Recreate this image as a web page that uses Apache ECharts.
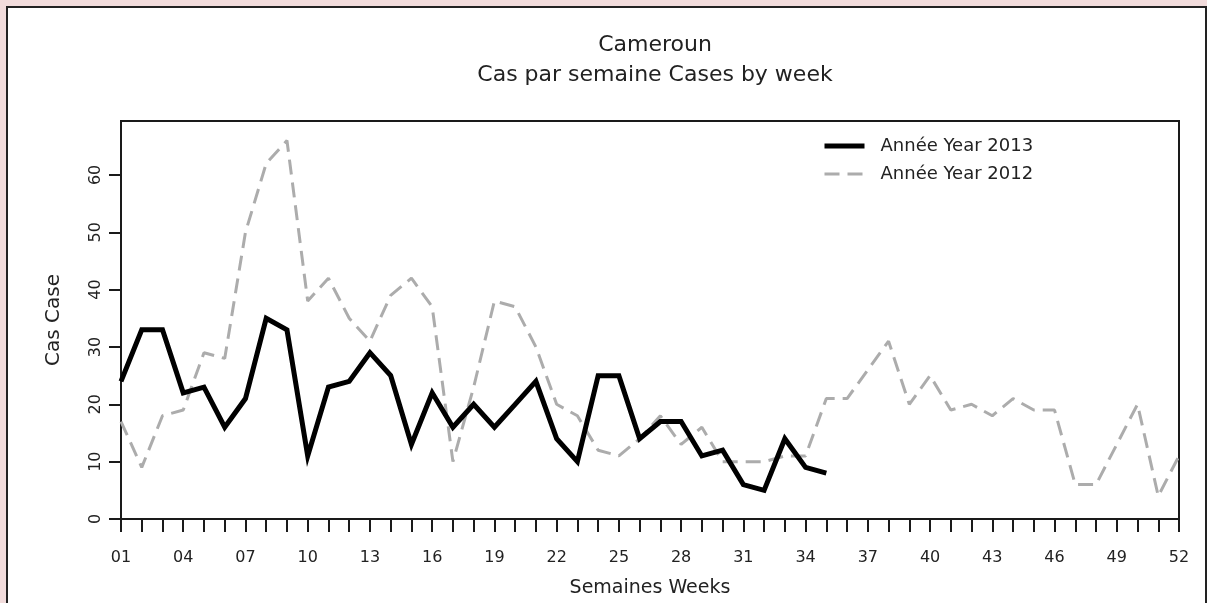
<!DOCTYPE html>
<html>
<head>
<meta charset="utf-8">
<title>Cameroun - Cas par semaine</title>
<script src="https://cdn.jsdelivr.net/npm/echarts@6/dist/echarts.min.js"></script>
<style>
  html, body { margin: 0; padding: 0; background: #f2dcdc; }
  .frame {
    position: absolute; left: 6px; top: 6px; width: 1197px; height: 700px;
    border: 2px solid #222; background: #fff;
  }
  #chart { position: absolute; left: 0; top: 0; width: 1207px; height: 603px; }
</style>
</head>
<body>
<div class="frame"></div>
<div id="chart"></div>
<script>
// semaines 01..52
const weeks = [
  '01', '02', '03', '04', '05', '06', '07', '08', '09', '10',
  '11', '12', '13', '14', '15', '16', '17', '18', '19', '20',
  '21', '22', '23', '24', '25', '26', '27', '28', '29', '30',
  '31', '32', '33', '34', '35', '36', '37', '38', '39', '40',
  '41', '42', '43', '44', '45', '46', '47', '48', '49', '50',
  '51', '52',
]

// cas 2013 (semaines 1-35)
const cases2013 = [
  24, 33, 33, 22, 23, 16, 21, 35, 33, 11,
  23, 24, 29, 25, 13, 22, 16, 20, 16, 20,
  24, 14, 10, 25, 25, 14, 17, 17, 11, 12,
  6, 5, 14, 9, 8,
]

// cas 2012 (semaines 1-52)
const cases2012 = [
  17, 9, 18, 19, 29, 28, 50, 62, 66, 38,
  42, 35, 31, 39, 42, 37, 10, 23, 38, 37,
  30, 20, 18, 12, 11, 14, 18, 13, 16, 10,
  10, 10, 11, 11, 21, 21, 26, 31, 20, 25,
  19, 20, 18, 21, 19, 19, 6, 6, 13, 20,
  4, 11,
]

const yTicks = [0, 10, 20, 30, 40, 50, 60]

const FONT = 'DejaVu Sans'
const AXIS_COLOR = '#1a1a1a'

const chart = echarts.init(document.getElementById('chart'))

chart.setOption({
  backgroundColor: 'transparent',
  animation: false,
  textStyle: { fontFamily: FONT, color: '#222' },
  title: [
    {
      text: 'Cameroun',
      left: 650,
      top: 29,
      textAlign: 'center',
      textStyle: { fontFamily: FONT, fontSize: 22, fontWeight: 'normal', color: '#222' },
    },
    {
      text: 'Cas par semaine Cases by week',
      left: 650,
      top: 59,
      textAlign: 'center',
      textStyle: { fontFamily: FONT, fontSize: 22, fontWeight: 'normal', color: '#222' },
    },
  ],
  legend: {
    orient: 'vertical',
    left: 822,
    top: 137,
    padding: 0,
    itemWidth: 40,
    itemHeight: 18,
    itemGap: 10,
    data: [
      { name: 'Année Year 2013', lineStyle: { width: 5 } },
      { name: 'Année Year 2012', lineStyle: { width: 3 } },
    ],
    itemStyle: { opacity: 0 },
    textStyle: { fontFamily: FONT, fontSize: 18, color: '#222', padding: [0, 0, 0, 11] },
  },
  grid: {
    left: 121,
    right: 28,
    top: 121,
    bottom: 84,
    show: true,
    borderColor: AXIS_COLOR,
    borderWidth: 2,
  },
  xAxis: {
    type: 'category',
    data: weeks,
    boundaryGap: false,
    name: 'Semaines Weeks',
    nameLocation: 'middle',
    nameGap: 60,
    nameTextStyle: { fontFamily: FONT, fontSize: 19, color: '#222' },
    axisLine: { lineStyle: { color: AXIS_COLOR, width: 2 } },
    axisTick: { interval: 0, length: 13, lineStyle: { color: AXIS_COLOR, width: 2 } },
    axisLabel: { interval: 2, margin: 31, fontFamily: FONT, fontSize: 16, color: '#222' },
    splitLine: { show: false },
  },
  yAxis: {
    type: 'value',
    min: 0,
    max: 69.4,
    name: 'Cas Case',
    nameLocation: 'middle',
    nameGap: 57,
    nameTextStyle: { fontFamily: FONT, fontSize: 20, color: '#222' },
    axisLine: { show: true, lineStyle: { color: AXIS_COLOR, width: 2 } },
    axisTick: { show: true, length: 12, customValues: yTicks, lineStyle: { color: AXIS_COLOR, width: 2 } },
    axisLabel: { rotate: 90, margin: 17, customValues: yTicks, fontFamily: FONT, fontSize: 16, color: '#222' },
    splitLine: { show: false },
  },
  series: [
    {
      name: 'Année Year 2012',
      type: 'line',
      data: cases2012,
      symbol: 'none',
      z: 2,
      lineStyle: { color: '#acacac', width: 3, type: [15, 8] },
      itemStyle: { color: '#acacac' },
    },
    {
      name: 'Année Year 2013',
      type: 'line',
      data: cases2013,
      symbol: 'none',
      z: 3,
      lineStyle: { color: '#000', width: 5, join: 'miter' },
      itemStyle: { color: '#000' },
    },
  ],
})
</script>
</body>
</html>
